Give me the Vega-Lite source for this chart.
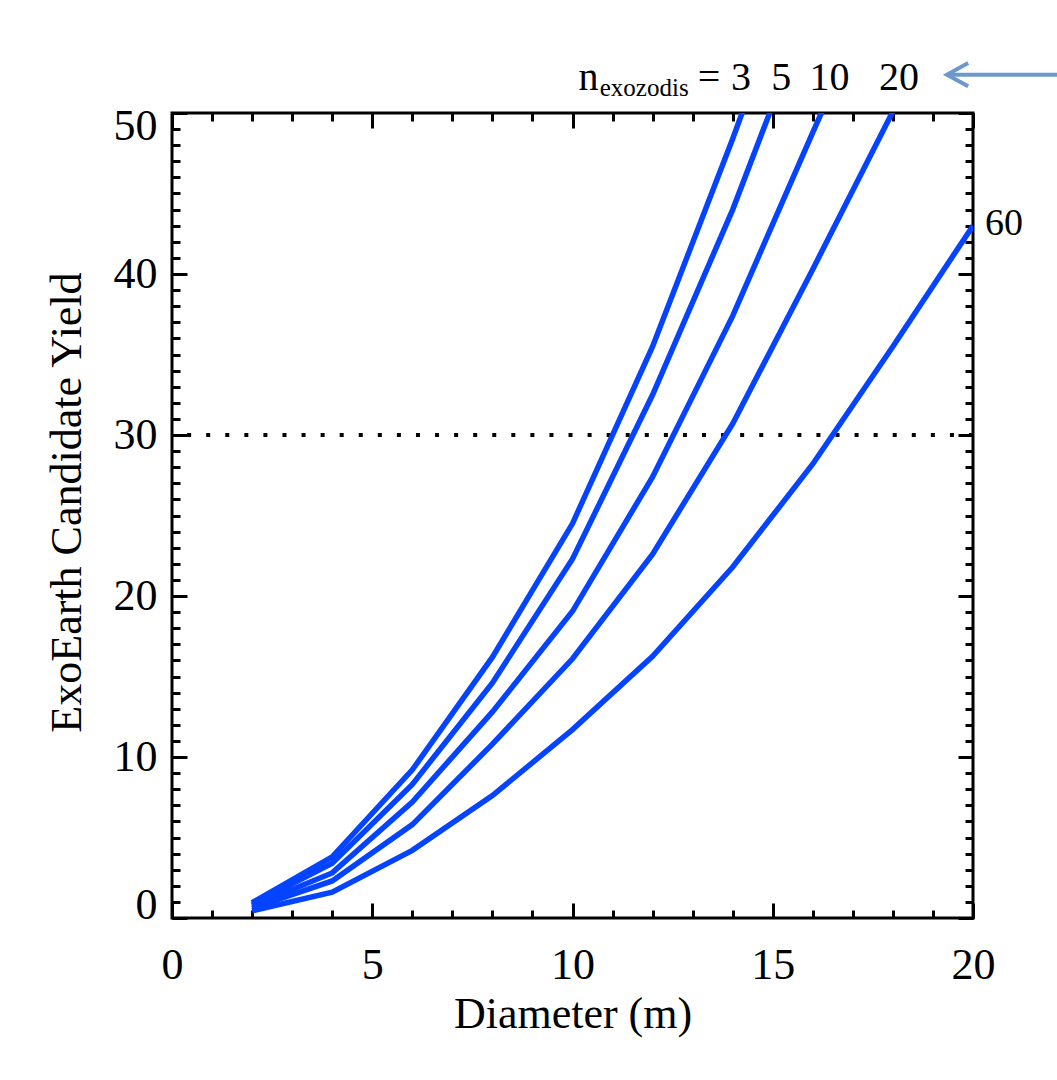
{
  "$schema": "https://vega.github.io/schema/vega-lite/v6.json",
  "width": 801,
  "height": 805,
  "autosize": {"type": "none"},
  "padding": {"left": 172, "top": 113, "right": 84, "bottom": 162},
  "background": "white",
  "datasets": {
    "curves": [
      {"D": 2, "Y": 0.95, "n": "3"}, {"D": 4, "Y": 3.8, "n": "3"}, {"D": 6, "Y": 9.2, "n": "3"}, {"D": 8, "Y": 16.2, "n": "3"}, {"D": 10, "Y": 24.5, "n": "3"}, {"D": 12, "Y": 35.5, "n": "3"}, {"D": 14, "Y": 48.4, "n": "3"}, {"D": 16, "Y": 62, "n": "3"}, {"D": 18, "Y": 76, "n": "3"}, {"D": 20, "Y": 91, "n": "3"},
      {"D": 2, "Y": 0.85, "n": "5"}, {"D": 4, "Y": 3.4, "n": "5"}, {"D": 6, "Y": 8.3, "n": "5"}, {"D": 8, "Y": 14.6, "n": "5"}, {"D": 10, "Y": 22.3, "n": "5"}, {"D": 12, "Y": 32.5, "n": "5"}, {"D": 14, "Y": 44.0, "n": "5"}, {"D": 16, "Y": 57, "n": "5"}, {"D": 18, "Y": 70, "n": "5"}, {"D": 20, "Y": 84, "n": "5"},
      {"D": 2, "Y": 0.75, "n": "10"}, {"D": 4, "Y": 2.8, "n": "10"}, {"D": 6, "Y": 7.2, "n": "10"}, {"D": 8, "Y": 12.8, "n": "10"}, {"D": 10, "Y": 19.05, "n": "10"}, {"D": 12, "Y": 27.4, "n": "10"}, {"D": 14, "Y": 37.4, "n": "10"}, {"D": 16, "Y": 48.8, "n": "10"}, {"D": 18, "Y": 60, "n": "10"}, {"D": 20, "Y": 72, "n": "10"},
      {"D": 2, "Y": 0.6, "n": "20"}, {"D": 4, "Y": 2.3, "n": "20"}, {"D": 6, "Y": 5.8, "n": "20"}, {"D": 8, "Y": 10.8, "n": "20"}, {"D": 10, "Y": 16.1, "n": "20"}, {"D": 12, "Y": 22.6, "n": "20"}, {"D": 14, "Y": 30.7, "n": "20"}, {"D": 16, "Y": 40.3, "n": "20"}, {"D": 18, "Y": 50.1, "n": "20"}, {"D": 20, "Y": 60, "n": "20"},
      {"D": 2, "Y": 0.45, "n": "60"}, {"D": 4, "Y": 1.6, "n": "60"}, {"D": 6, "Y": 4.2, "n": "60"}, {"D": 8, "Y": 7.6, "n": "60"}, {"D": 10, "Y": 11.7, "n": "60"}, {"D": 12, "Y": 16.25, "n": "60"}, {"D": 14, "Y": 21.8, "n": "60"}, {"D": 16, "Y": 28.2, "n": "60"}, {"D": 18, "Y": 35.5, "n": "60"}, {"D": 20, "Y": 43.0, "n": "60"}
    ],
    "threshold": [{"Y": 30}],
    "topLabels": [
      {"t": "n", "x": 10.40, "y": 51.40},
      {"t": "=", "x": 13.41, "y": 51.40},
      {"t": "3", "x": 14.21, "y": 51.40},
      {"t": "5", "x": 15.21, "y": 51.40},
      {"t": "10", "x": 16.42, "y": 51.40},
      {"t": "20", "x": 18.15, "y": 51.40}
    ],
    "sub": [{"t": "exozodis", "x": 11.79, "y": 51.03}],
    "endLabel": [{"t": "60", "x": 20.30, "y": 42.44}],
    "arrowShaft": [{"x": 19.40, "x2": 22.2, "y": 52.38}],
    "arrowHead": [
      {"x": 19.88, "y": 53.1, "o": 1},
      {"x": 19.35, "y": 52.38, "o": 2},
      {"x": 19.88, "y": 51.66, "o": 3}
    ]
  },
  "layer": [
    {
      "data": {"name": "threshold"},
      "mark": {"type": "rule", "color": "black", "strokeWidth": 4, "strokeDash": [4, 15.07]},
      "encoding": {
        "y": {"field": "Y", "type": "quantitative", "scale": {"domain": [0, 50], "nice": false}, "axis": null}
      }
    },
    {
      "data": {"name": "curves"},
      "mark": {"type": "line", "clip": true, "strokeWidth": 5.5, "color": "#0443ff", "strokeCap": "butt"},
      "encoding": {
        "x": {"field": "D", "type": "quantitative", "scale": {"domain": [0, 20], "nice": false, "zero": false},
          "axis": {"orient": "bottom", "values": [0, 5, 10, 15, 20], "tickSize": -15, "labelPadding": 75, "labelBaseline": "alphabetic", "labelFlush": false, "labelOverlap": false, "format": "d", "title": "Diameter (m)", "titleBaseline": "alphabetic", "titlePadding": 40}},
        "y": {"field": "Y", "type": "quantitative", "scale": {"domain": [0, 50], "nice": false},
          "axis": {"orient": "left", "values": [0, 10, 20, 30, 40, 50], "tickSize": -15, "labelPadding": 30, "labelFlush": true, "labelFlushOffset": 9, "labelOverlap": false, "format": "d", "title": "ExoEarth Candidate Yield", "titleBaseline": "alphabetic", "titlePadding": 33, "titleY": 389}},
        "detail": {"field": "n", "type": "nominal"}
      }
    },
    {
      "data": {"name": "topLabels"},
      "mark": {"type": "text", "fontSize": 40, "align": "center", "baseline": "alphabetic", "color": "black", "font": "Liberation Serif"},
      "encoding": {
        "x": {"field": "x", "type": "quantitative", "scale": {"domain": [0, 20], "nice": false, "zero": false},
          "axis": {"orient": "bottom", "values": [0,1,2,3,4,5,6,7,8,9,10,11,12,13,14,15,16,17,18,19,20], "tickSize": -8, "labels": false, "title": null}},
        "y": {"field": "y", "type": "quantitative", "scale": {"domain": [0, 50], "nice": false},
          "axis": {"orient": "left", "values": [0,1,2,3,4,5,6,7,8,9,10,11,12,13,14,15,16,17,18,19,20,21,22,23,24,25,26,27,28,29,30,31,32,33,34,35,36,37,38,39,40,41,42,43,44,45,46,47,48,49,50], "tickSize": -8, "labels": false, "title": null}},
        "text": {"field": "t"}
      }
    },
    {
      "data": {"name": "sub"},
      "mark": {"type": "text", "fontSize": 25, "align": "center", "baseline": "alphabetic", "color": "black", "font": "Liberation Serif"},
      "encoding": {
        "x": {"field": "x", "type": "quantitative", "scale": {"domain": [0, 20], "nice": false, "zero": false},
          "axis": {"orient": "top", "values": [0, 5, 10, 15, 20], "tickSize": -15, "labels": false, "title": null}},
        "y": {"field": "y", "type": "quantitative", "scale": {"domain": [0, 50], "nice": false},
          "axis": {"orient": "right", "values": [0, 10, 20, 30, 40, 50], "tickSize": -15, "labels": false, "title": null}},
        "text": {"field": "t"}
      }
    },
    {
      "data": {"name": "endLabel"},
      "mark": {"type": "text", "fontSize": 38, "align": "left", "baseline": "alphabetic", "color": "black", "font": "Liberation Serif"},
      "encoding": {
        "x": {"field": "x", "type": "quantitative", "scale": {"domain": [0, 20], "nice": false, "zero": false},
          "axis": {"orient": "top", "values": [0,1,2,3,4,5,6,7,8,9,10,11,12,13,14,15,16,17,18,19,20], "tickSize": -8, "labels": false, "title": null}},
        "y": {"field": "y", "type": "quantitative", "scale": {"domain": [0, 50], "nice": false},
          "axis": {"orient": "right", "values": [0,1,2,3,4,5,6,7,8,9,10,11,12,13,14,15,16,17,18,19,20,21,22,23,24,25,26,27,28,29,30,31,32,33,34,35,36,37,38,39,40,41,42,43,44,45,46,47,48,49,50], "tickSize": -8, "labels": false, "title": null}},
        "text": {"field": "t"}
      }
    },
    {
      "data": {"name": "arrowShaft"},
      "mark": {"type": "rule", "color": "#6d98cc", "strokeWidth": 4},
      "encoding": {
        "x": {"field": "x", "type": "quantitative", "scale": {"domain": [0, 20], "nice": false, "zero": false}, "axis": null},
        "x2": {"field": "x2"},
        "y": {"field": "y", "type": "quantitative", "scale": {"domain": [0, 50], "nice": false}, "axis": null}
      }
    },
    {
      "data": {"name": "arrowHead"},
      "mark": {"type": "line", "color": "#6d98cc", "strokeWidth": 4, "strokeJoin": "miter"},
      "encoding": {
        "x": {"field": "x", "type": "quantitative", "scale": {"domain": [0, 20], "nice": false, "zero": false}, "axis": null},
        "y": {"field": "y", "type": "quantitative", "scale": {"domain": [0, 50], "nice": false}, "axis": null},
        "order": {"field": "o", "type": "quantitative"}
      }
    }
  ],
  "resolve": {"axis": {"x": "independent", "y": "independent"}},
  "config": {
    "font": "Liberation Serif",
    "view": {"stroke": "black", "strokeWidth": 3},
    "axis": {
      "grid": false,
      "domain": false,
      "tickColor": "black",
      "tickWidth": 3,
      "labelFont": "Liberation Serif",
      "labelFontSize": 44,
      "labelColor": "black",
      "titleFont": "Liberation Serif",
      "titleFontSize": 44,
      "titleFontWeight": "normal",
      "titleColor": "black"
    }
  }
}
